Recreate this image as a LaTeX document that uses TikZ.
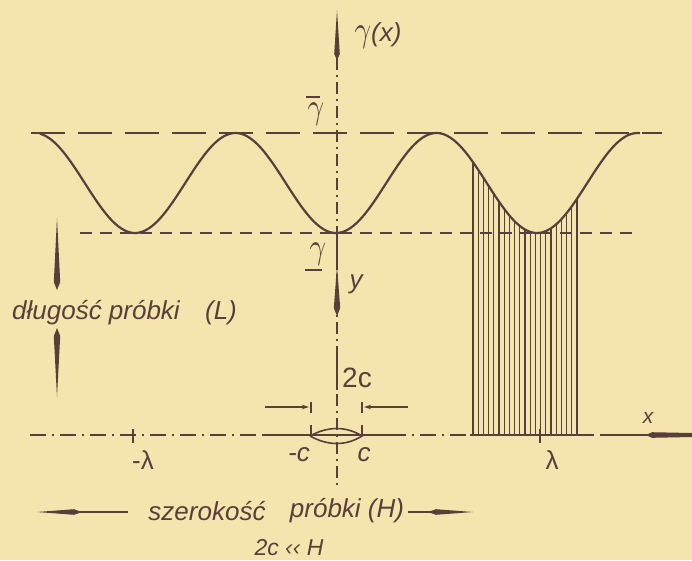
\documentclass[tikz,border=0pt]{standalone}
\usepackage{fontspec}
\usepackage{graphicx}
\setmainfont{Liberation Sans}
\usetikzlibrary{arrows.meta}
\definecolor{paper}{HTML}{F6E4AE}
\definecolor{ink}{HTML}{5A3E3A}
\newcommand\biggam{\scalebox{2.9}[3.6]{\fontsize{10}{12}\selectfont$\gamma$}}
\tikzset{
  lbl/.style={text=ink, inner sep=0pt, font=\fontsize{26}{28}\selectfont\itshape},
  ulbl/.style={text=ink, inner sep=0pt, font=\fontsize{26}{28}\selectfont},
  thinline/.style={ink, line width=1.4pt},
  wave/.style={ink, line width=2.2pt},
  hatchline/.style={ink, line width=1.1pt},
  dimarrow/.style={ink, line width=1.4pt, -{Stealth[length=7pt,width=4.5pt]}},
  wedge/.style={fill=ink, draw=none}
}
\begin{document}
\begin{tikzpicture}[x=1pt,y=-1pt]
\fill[paper] (0,0) rectangle (692,560);
\useasboundingbox (0,0) rectangle (692,560);

% level lines
\draw[ink, line width=1.9pt, dash pattern=on 34pt off 13pt] (31,133) -- (662,133);
\draw[ink, line width=1.8pt, dash pattern=on 12pt off 8pt] (80,233) -- (634,233);

% vertical axis
\coordinate (vtop) at (337,58);
\coordinate (vbot) at (337,489);
\draw[thinline, dash pattern=on 12pt off 5pt on 2pt off 5pt] (vtop) -- (vbot);
\draw[thinline] (337,58) -- (337,70);
\draw[thinline] (337,233) -- (337,270);
\draw[thinline] (337,357) -- (337,390);
\fill[wedge] (337,10) -- (339.8,54) -- (337,60) -- (334.2,54) -- cycle;
\fill[wedge] (337,266) -- (340.2,308) -- (337,316) -- (333.8,308) -- cycle;

% x axis
\draw[thinline, dash pattern=on 16pt off 6pt on 2pt off 6pt] (30,435) -- (612,435);
\draw[thinline] (263,435) -- (390,435);
\draw[thinline] (470,435) -- (592,435);
\draw[thinline] (612,435) -- (648,435);
\fill[wedge] (646,435) -- (652,432.2) -- (692,433) -- (692,437) -- (652,437.8) -- cycle;
\draw[thinline] (133,429) -- (133,443);

% wave
\draw[wave] plot[domain=40:640, samples=200, smooth] (\x,{183+50*cos(1.791*(\x-336))});

% hatching
\foreach \i in {0,...,20}{
  \pgfmathsetmacro\hx{473+\i*5.2}
  \draw[hatchline] (\hx,{183+50*cos(1.791*(\hx-336))}) -- (\hx,435);
}
\draw[thinline] (540,429) -- (540,443);

% lens (crack)
\draw[ink, line width=1.6pt] (310,436) .. controls (328,426) and (346,426) .. (362,436)
                              .. controls (346,446) and (328,446) .. (310,436);
\draw[thinline] (311,402) -- (311,413);
\draw[thinline] (311,425) -- (311,436);
\draw[thinline] (362,402) -- (362,413);
\draw[thinline] (362,425) -- (362,436);
\coordinate (dl1) at (265,407);
\coordinate (dl2) at (309,407);
\coordinate (dr1) at (408,407);
\coordinate (dr2) at (364,407);
\draw[dimarrow] (dl1) -- (dl2);
\draw[dimarrow] (dr1) -- (dr2);

% labels
\node[lbl] (gx) at (378,36) {\biggam(x)};
\node[lbl] (gbar) at (316,114) {\biggam};
\draw[ink, line width=1.5pt] (306,97) -- (320,97);
\node[lbl] (gund) at (318,254) {\biggam};
\draw[ink, line width=1.5pt] (305,270) -- (322,270);
\node[lbl] (ylab) at (356,284) {y};
\node[lbl, font=\fontsize{21}{22}\selectfont\itshape] (xlab) at (648,418) {x};
\node[ulbl, font=\fontsize{28}{30}\selectfont] (twoc) at (357,378) {2c};
\node[lbl] (mc) at (299,455) {-c};
\node[lbl] (pc) at (364,455) {c};
\node[ulbl] (ml) at (143,460) {-λ};
\node[ulbl] (pl) at (552,460) {λ};

% sample length
\node[lbl] (dlug) at (96,313) {długość próbki};
\node[lbl] (Lb) at (221,313) {(L)};
\fill[wedge] (57,218) -- (60.2,282) -- (57,290) -- (53.8,282) -- cycle;
\fill[wedge] (57,328) -- (60.2,336) -- (57,397) -- (53.8,336) -- cycle;

% sample width
\node[lbl] (szer) at (207,511) {szerokość};
\node[lbl] (prob) at (347,511) {próbki (H)};
\draw[thinline] (80,512) -- (128,512);
\fill[wedge] (37,512) -- (74,509.2) -- (82,512) -- (74,514.8) -- cycle;
\draw[thinline] (408,512) -- (430,512);
\fill[wedge] (473,512) -- (436,509.2) -- (428,512) -- (436,514.8) -- cycle;
\node[lbl, font=\fontsize{23}{24}\selectfont\itshape] (cond) at (289,548) {2c ‹‹ H};
\end{tikzpicture}
\end{document}
